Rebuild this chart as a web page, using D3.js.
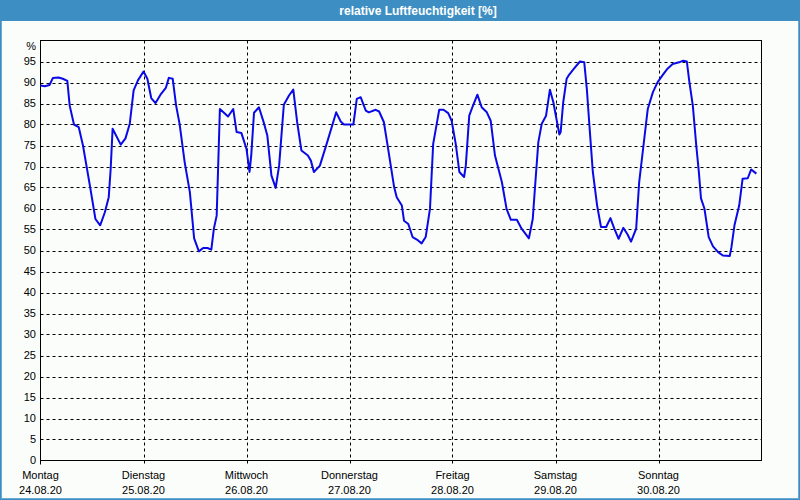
<!DOCTYPE html>
<html>
<head>
<meta charset="utf-8">
<script src="https://cdn.jsdelivr.net/npm/d3@7"></script>
<style>
  html, body { margin: 0; padding: 0; background: #fbfdfb; }
  svg { display: block; }
</style>
</head>
<body>
<svg id="chart" width="800" height="500"></svg>
<script>
// ---- data (hours since Mon 24.08.20 00:00, relative humidity %) ----
const hours = [0.0, 1.0, 2.1, 2.9, 4.2, 5.2, 6.25, 6.8, 7.8, 8.9, 9.9, 11.5, 12.8, 13.9, 15.0, 15.9, 16.35, 16.8,
  18.7, 19.8, 20.8, 21.7, 22.7, 24.0, 24.9, 25.8, 26.8, 28.1, 29.2, 29.9, 30.8, 31.6, 32.4, 33.6, 34.8, 35.8,
  36.9, 37.9, 38.9, 39.8, 40.4, 41.05, 41.4, 41.8, 43.7, 44.9, 45.7, 46.8, 48.0, 48.7, 49.1, 49.75, 50.9, 52.1,
  52.85, 53.8, 54.8, 55.6, 56.7, 57.9, 58.9, 59.8, 60.8, 62.3, 63.0, 63.7, 65.1, 66.8, 68.9, 69.95, 70.7, 72.9,
  73.7, 74.6, 75.8, 76.5, 78.1, 78.9, 80.0, 80.8, 82.4, 83.0, 84.2, 84.7, 85.7, 86.7, 87.7, 88.8, 89.75, 90.75,
  91.5, 92.9, 93.9, 95.0, 95.8, 96.75, 97.6, 98.7, 99.1, 99.9, 100.85, 101.8, 102.8, 104.0, 104.9, 105.9, 107.5,
  108.6, 109.6, 111.0, 112.1, 113.8, 114.7, 115.2, 116.0, 116.8, 117.8, 118.7, 119.5, 120.3, 120.9, 121.2, 121.8,
  122.6, 123.2, 124.4, 125.7, 126.7, 127.3, 127.9, 128.7, 129.7, 130.6, 131.8, 132.8, 133.7, 134.7, 135.8, 136.8,
  137.6, 138.8, 139.5, 140.5, 141.5, 142.7, 143.8, 145.0, 146.1, 147.3, 148.8, 149.75, 150.6, 151.2, 152.0, 152.8,
  153.4, 153.9, 154.7, 155.7, 156.7, 157.9, 159.0, 160.6, 161.0, 161.7, 162.8, 163.6, 164.8, 165.6, 166.8];
const humidity = [89.3, 89.1, 89.4, 91.1, 91.2, 90.9, 90.4, 84.5, 80.0, 79.4, 75.0, 65.5, 57.5, 56.0, 59.1, 62.7, 69.4, 79.0,
  75.2, 76.7, 80.2, 88.1, 90.5, 92.6, 90.9, 86.3, 85.1, 87.3, 88.7, 91.1, 90.9, 84.5, 80.2, 71.0, 63.9, 52.9,
  49.8, 50.6, 50.6, 50.2, 55.2, 58.3, 70.2, 83.7, 81.9, 83.7, 78.2, 78.0, 74.2, 68.7, 72.6, 82.8, 84.1, 80.2,
  77.4, 67.9, 64.9, 70.2, 84.7, 86.9, 88.3, 80.6, 73.8, 72.6, 71.4, 68.7, 70.2, 75.8, 82.9, 80.7, 80.0, 80.0,
  86.1, 86.5, 83.3, 82.9, 83.5, 83.1, 80.6, 75.5, 65.1, 62.7, 60.7, 57.1, 56.3, 53.2, 52.6, 51.7, 53.2, 59.9,
  75.4, 83.5, 83.5, 82.7, 80.9, 75.4, 68.7, 67.5, 70.2, 82.1, 84.7, 87.1, 84.1, 82.9, 80.9, 72.6, 66.3,
  59.9, 57.3, 57.3, 55.2, 52.9, 57.5, 64.7, 75.8, 80.2, 82.1, 88.3, 85.3, 80.9, 77.6, 78.2, 85.3,
  90.9, 91.9, 93.4, 95.0, 94.8, 88.5, 79.8, 68.7, 60.7, 55.6, 55.6, 57.7, 55.2, 52.8, 55.4, 53.8,
  52.1, 55.2, 66.3, 75.0, 83.7, 87.7, 90.1, 91.8, 93.3, 94.4, 94.8, 95.2, 95.0, 90.1, 84.5, 75.0,
  68.7, 62.4, 60.0, 53.2, 51.0, 49.6, 48.8, 48.7, 50.8, 56.0, 60.7, 67.1, 67.2, 69.3, 68.3];
const dayNames = ["Montag", "Dienstag", "Mittwoch", "Donnerstag", "Freitag", "Samstag", "Sonntag"];
const dayDates = ["24.08.20", "25.08.20", "26.08.20", "27.08.20", "28.08.20", "29.08.20", "30.08.20"];
const yTicks = [0, 5, 10, 15, 20, 25, 30, 35, 40, 45, 50, 55, 60, 65, 70, 75, 80, 85, 90, 95];
const titleText = "relative Luftfeuchtigkeit [%]";
const unitLabel = "%";

(function () {
// ---- layout ----
const W = 800, H = 500;
const pLeft = 40.5, pRight = 761.5, pTop = 40.5, pBottom = 460.5;
const font = "'Liberation Sans', Arial, sans-serif";

const start = new Date(2020, 7, 24, 0, 0, 0);
const end = new Date(2020, 7, 31, 0, 0, 0);
const hourMs = 3600 * 1000;
const data = hours.map((h, i) => ({ t: new Date(start.getTime() + h * hourMs), v: humidity[i] }));
const dayTimes = dayNames.map((d, i) => new Date(start.getTime() + i * 24 * hourMs));

const x = d3.scaleTime().domain([start, end]).range([pLeft, pRight]);
const y = d3.scaleLinear().domain([0, 100]).range([pBottom, pTop]);

const svg = d3.select("#chart");

// background
svg.append("rect").attr("x", 0).attr("y", 0).attr("width", W).attr("height", H).attr("fill", "#fbfdfb");
// window border
svg.append("rect").attr("x", 0.5).attr("y", 0.5).attr("width", W - 1).attr("height", H - 1)
  .attr("fill", "none").attr("stroke", "#3d8fc3").attr("stroke-width", 1);
svg.append("rect").attr("x", 1.5).attr("y", 1.5).attr("width", W - 3).attr("height", H - 3)
  .attr("fill", "none").attr("stroke", "#6aa9d2").attr("stroke-width", 1);
// title bar
svg.append("rect").attr("x", 0).attr("y", 0).attr("width", W).attr("height", 21).attr("fill", "#3d8fc3");
svg.append("text").attr("x", 418).attr("y", 15).attr("text-anchor", "middle")
  .attr("font-family", font).attr("font-size", 12).attr("font-weight", "bold")
  .attr("fill", "#ffffff").text(titleText);

// horizontal grid
svg.append("g").selectAll("line").data(yTicks.filter(t => t > 0)).join("line")
  .attr("x1", pLeft).attr("x2", pRight)
  .attr("y1", d => Math.round(y(d)) + 0.5).attr("y2", d => Math.round(y(d)) + 0.5)
  .attr("stroke", "#000").attr("stroke-width", 1).attr("stroke-dasharray", "3,3");

// vertical grid (days) + small ticks below axis
svg.append("g").selectAll("line").data(dayTimes.slice(1)).join("line")
  .attr("x1", d => Math.round(x(d)) + 0.5).attr("x2", d => Math.round(x(d)) + 0.5)
  .attr("y1", pTop).attr("y2", pBottom + 4)
  .attr("stroke", "#000").attr("stroke-width", 1).attr("stroke-dasharray", "3,3");
svg.append("line").attr("x1", pLeft).attr("x2", pLeft).attr("y1", pBottom).attr("y2", pBottom + 4)
  .attr("stroke", "#000");

// frame
svg.append("rect").attr("x", pLeft).attr("y", pTop).attr("width", pRight - pLeft).attr("height", pBottom - pTop)
  .attr("fill", "none").attr("stroke", "#000").attr("stroke-width", 1);

// y labels
svg.append("g").selectAll("text").data(yTicks).join("text")
  .attr("x", 36).attr("y", d => y(d)).attr("dy", "0.36em").attr("text-anchor", "end")
  .attr("font-family", font).attr("font-size", 11).attr("fill", "#000").text(d => d);
svg.append("text").attr("x", 36).attr("y", 50).attr("text-anchor", "end")
  .attr("font-family", font).attr("font-size", 11).attr("fill", "#000").text(unitLabel);

// x labels
const xl = svg.append("g").selectAll("g").data(dayTimes).join("g");
xl.append("text").attr("x", d => x(d)).attr("y", 479).attr("text-anchor", "middle")
  .attr("font-family", font).attr("font-size", 11).attr("fill", "#000").text((d, i) => dayNames[i]);
xl.append("text").attr("x", d => x(d)).attr("y", 494).attr("text-anchor", "middle")
  .attr("font-family", font).attr("font-size", 11).attr("fill", "#000").text((d, i) => dayDates[i]);

// line
const line = d3.line().x(d => x(d.t)).y(d => y(d.v));
svg.append("path").datum(data).attr("d", line)
  .attr("fill", "none").attr("stroke", "#0a0ae6").attr("stroke-width", 2)
  .attr("stroke-linejoin", "round");
})();
</script>
</body>
</html>
